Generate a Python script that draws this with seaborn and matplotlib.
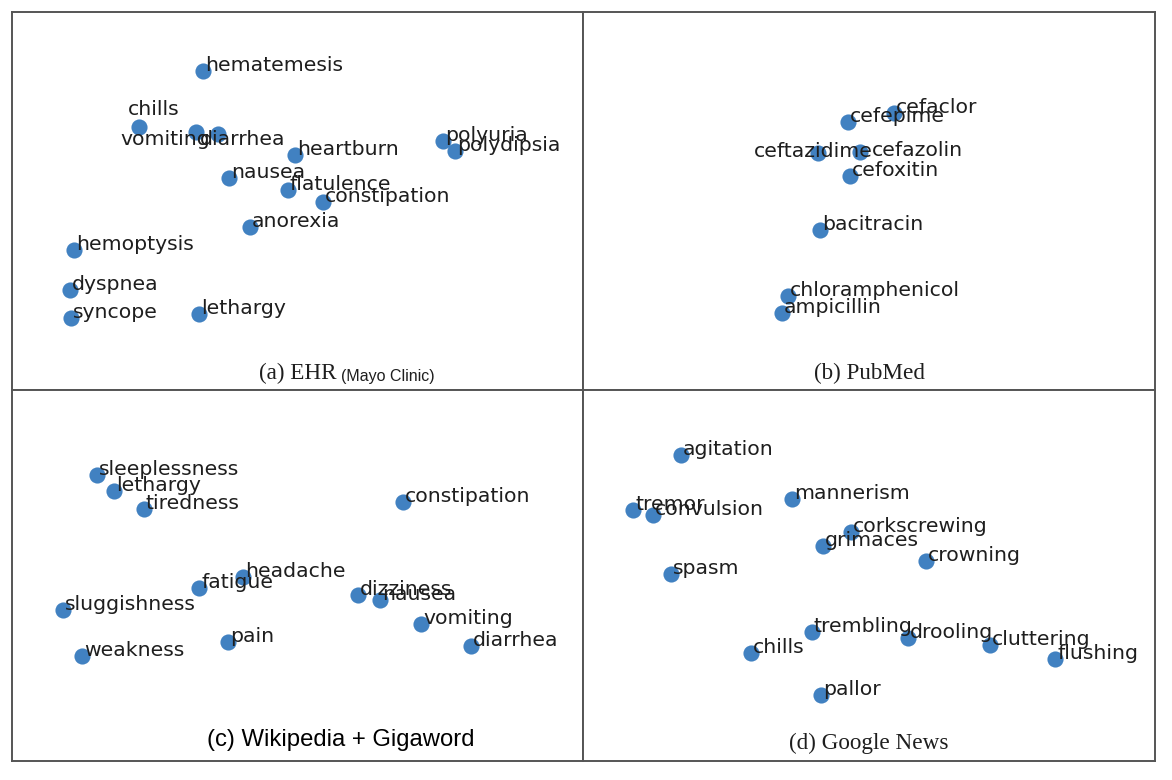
import matplotlib
matplotlib.use("Agg")
import matplotlib.pyplot as plt
import seaborn as sns

sns.set_style("white")

# ── Embedding coordinates (arbitrary units, y up) ─────────────────────────────

EHR_WORDS = ["hematemesis", "chills", "vomiting", "diarrhea", "heartburn", "nausea",
             "flatulence", "constipation", "polyuria", "polydipsia", "anorexia",
             "hemoptysis", "dyspnea", "syncope", "lethargy"]
EHR_X = [191, 127, 184, 206, 283, 217, 276, 311, 431, 443, 238, 62, 58, 59, 187]
EHR_Y = [319, 263, 258, 256, 235, 212, 200, 188, 249, 239, 163, 140, 100, 72, 76]

PUBMED_WORDS = ["cefaclor", "cefepime", "ceftazidime", "cefazolin", "cefoxitin",
                "bacitracin", "chloramphenicol", "ampicillin"]
PUBMED_X = [311, 265, 235, 277, 267, 237, 205, 199]
PUBMED_Y = [277, 268, 237, 238, 214, 160, 94, 77]

WIKI_WORDS = ["sleeplessness", "lethargy", "tiredness", "constipation", "headache",
              "fatigue", "dizziness", "nausea", "sluggishness", "vomiting",
              "diarrhea", "pain", "weakness"]
WIKI_X = [85, 102, 132, 391, 231, 187, 346, 368, 51, 409, 459, 216, 70]
WIKI_Y = [286, 270, 252, 259, 184, 173, 166, 161, 151, 137, 115, 119, 105]

NEWS_WORDS = ["agitation", "mannerism", "tremor", "convulsion", "corkscrewing",
              "grimaces", "crowning", "spasm", "trembling", "drooling",
              "cluttering", "flushing", "chills", "pallor"]
NEWS_X = [98, 209, 50, 70, 268, 240, 343, 88, 229, 325, 407, 472, 168, 238]
NEWS_Y = [306, 262, 251, 246, 229, 215, 200, 187, 129, 123, 116, 102, 108, 66]

# label nudges (pixels) where the original labels were pushed off their dot
LABEL_SHIFT = {
    ("a", "chills"): (-11, 12),
    ("a", "vomiting"): (-76, -13),
    ("a", "diarrhea"): (-18, -11),
    ("b", "ceftazidime"): (-64, -4),
    ("b", "cefazolin"): (12, -4),
}

DOT = "#3b7dbf"
INK = "#1e1e1e"
EDGE = "#555555"
W, H = 1172, 780

# panel boxes in pixels: left, top, right, bottom
PANELS = [
    ("a", EHR_WORDS, EHR_X, EHR_Y, (12, 12, 583, 390)),
    ("b", PUBMED_WORDS, PUBMED_X, PUBMED_Y, (583, 12, 1155, 390)),
    ("c", WIKI_WORDS, WIKI_X, WIKI_Y, (12, 390, 583, 761)),
    ("d", NEWS_WORDS, NEWS_X, NEWS_Y, (583, 390, 1155, 761)),
]

fig = plt.figure(figsize=(W / 100, H / 100), dpi=100)
axes = {}
for key, words, xs, ys, (l, t, r, b) in PANELS:
    ax = fig.add_axes([l / W, 1 - b / H, (r - l) / W, (b - t) / H])
    sns.scatterplot(x=xs, y=ys, ax=ax, s=135, color=DOT, linewidth=0, alpha=0.97)
    for w, x, y in zip(words, xs, ys):
        dx, dy = LABEL_SHIFT.get((key, w), (2, 0))
        ax.annotate(w, (x, y), xytext=(dx, dy), textcoords="offset pixels",
                    fontsize=14.7, color=INK, family="DejaVu Sans", va="baseline")
    ax.set_xlim(0, r - l)
    ax.set_ylim(0, b - t)
    ax.set_xticks([])
    ax.set_yticks([])
    for sp in ax.spines.values():
        sp.set_color(EDGE)
        sp.set_linewidth(1.4)
    axes[key] = ax

# ── Captions ──────────────────────────────────────────────────────────────────

serif = ["Liberation Serif", "DejaVu Serif"]
sans = ["Liberation Sans", "DejaVu Sans"]

cap_a = axes["a"].text(286, 11, "(a) EHR", ha="center", va="baseline",
                       fontsize=16.7, family=serif, color=INK)
axes["a"].annotate("(Mayo Clinic)", xy=(1, 0), xycoords=cap_a, xytext=(4, 0),
                   textcoords="offset pixels", ha="left", va="bottom",
                   fontsize=11.5, family=sans, color=INK)
axes["b"].text(286, 11, "(b) PubMed", ha="center", va="baseline",
               fontsize=16.7, family=serif, color=INK)
axes["c"].text(329, 15, "(c) Wikipedia + Gigaword", ha="center", va="baseline",
               fontsize=17.2, family=sans, color="black")
axes["d"].text(286, 12, "(d) Google News", ha="center", va="baseline",
               fontsize=16.7, family=serif, color=INK)

fig.savefig("out.png", dpi=100)
